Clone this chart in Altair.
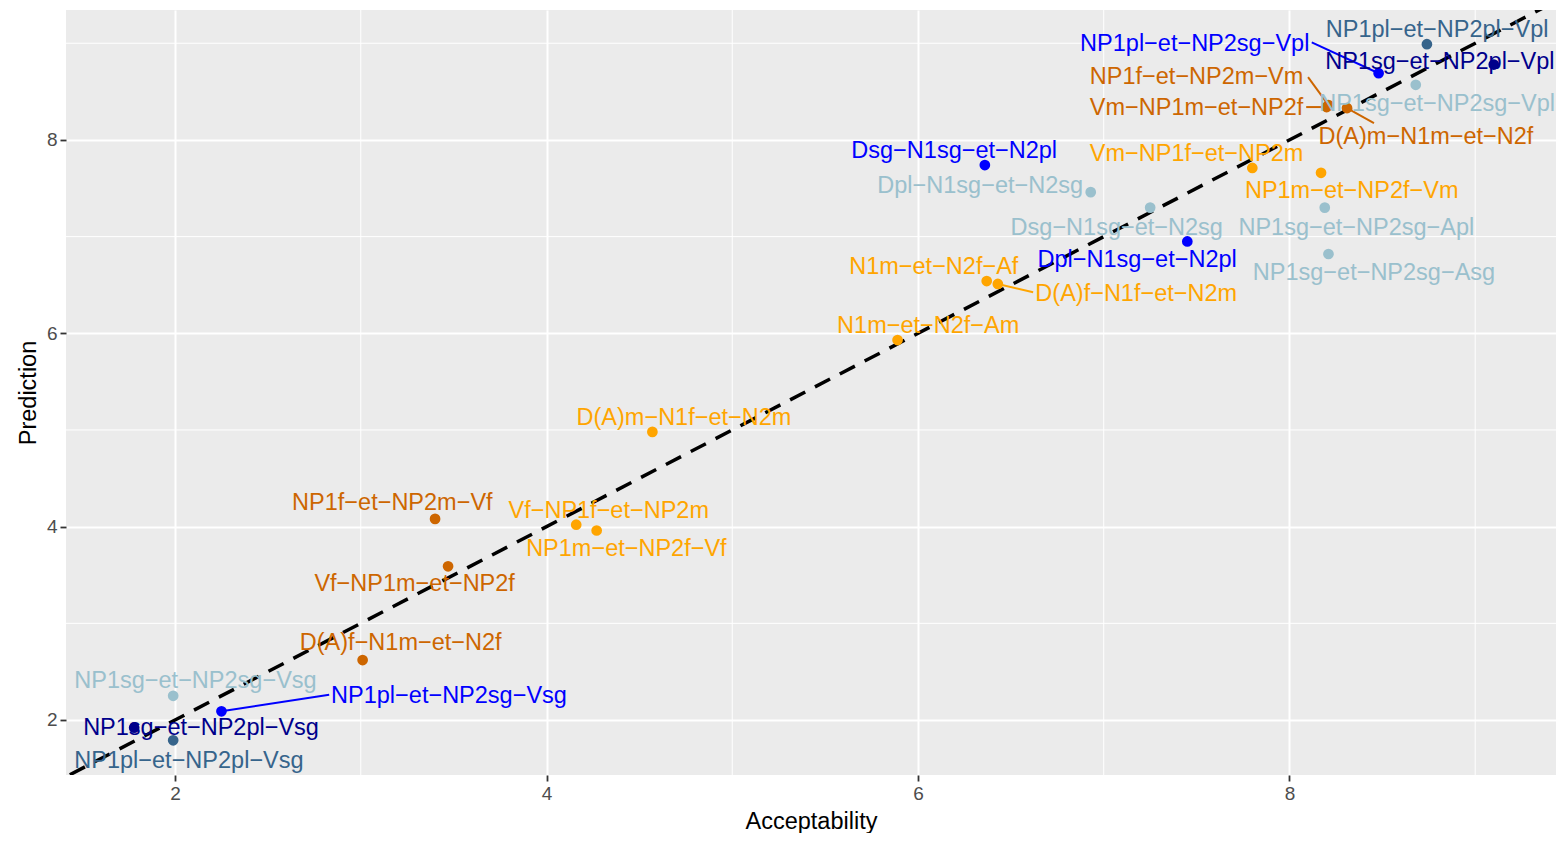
import altair as alt
import pandas as pd

# ---- data ----
labels = [
    "NP1sg−et−NP2pl−Vsg", "NP1sg−et−NP2pl−Vpl",
    "NP1pl−et−NP2pl−Vsg", "NP1pl−et−NP2pl−Vpl",
    "NP1sg−et−NP2sg−Vsg", "NP1sg−et−NP2sg−Vpl", "Dpl−N1sg−et−N2sg", "Dsg−N1sg−et−N2sg",
    "NP1sg−et−NP2sg−Apl", "NP1sg−et−NP2sg−Asg",
    "NP1pl−et−NP2sg−Vsg", "NP1pl−et−NP2sg−Vpl", "Dsg−N1sg−et−N2pl", "Dpl−N1sg−et−N2pl",
    "NP1f−et−NP2m−Vf", "Vf−NP1m−et−NP2f", "D(A)f−N1m−et−N2f", "NP1f−et−NP2m−Vm",
    "Vm−NP1m−et−NP2f", "D(A)m−N1m−et−N2f",
    "Vm−NP1f−et−NP2m", "NP1m−et−NP2f−Vm", "N1m−et−N2f−Af", "D(A)f−N1f−et−N2m",
    "N1m−et−N2f−Am", "D(A)m−N1f−et−N2m", "Vf−NP1f−et−NP2m", "NP1m−et−NP2f−Vf",
]
groups = (["g1"] * 2 + ["g2"] * 2 + ["g3"] * 6 + ["g4"] * 4 + ["g5"] * 6 + ["g6"] * 8)
acceptability = [1.78, 9.10, 1.99, 8.74, 1.99, 8.68, 6.93, 7.25, 8.19, 8.21,
                 2.25, 8.48, 6.36, 7.45, 3.40, 3.47, 3.01, 8.21, 8.20, 8.31,
                 7.80, 8.17, 6.37, 6.43, 5.89, 4.57, 4.16, 4.27]
prediction = [1.92, 8.78, 1.79, 8.99, 2.25, 8.57, 7.46, 7.30, 7.30, 6.82,
              2.09, 8.69, 7.74, 6.95, 4.08, 3.59, 2.62, 8.36, 8.34, 8.33,
              7.71, 7.66, 6.54, 6.51, 5.93, 4.98, 4.02, 3.96]
label_x = [2.14, 8.81, 2.075, 8.795, 2.11, 8.795, 6.335, 7.07, 8.36, 8.455,
           3.475, 7.49, 6.195, 7.18, 3.17, 3.29, 3.215, 7.50, 7.50, 8.735,
           7.50, 8.335, 6.085, 7.175, 6.055, 4.74, 4.335, 4.43]
label_y = [1.93, 8.82, 1.59, 9.15, 2.415, 8.39, 7.535, 7.10, 7.10, 6.635,
           2.26, 9.01, 7.90, 6.77, 4.26, 3.42, 2.81, 8.67, 8.35, 8.05,
           7.865, 7.485, 6.70, 6.425, 6.09, 5.135, 4.175, 3.78]

seg_labels = ["NP1pl−et−NP2sg−Vsg", "NP1pl−et−NP2sg−Vpl", "NP1f−et−NP2m−Vm",
              "Vm−NP1m−et−NP2f", "D(A)m−N1m−et−N2f", "D(A)f−N1f−et−N2m"]
seg_end_x = [2.83, 8.12, 8.10, 8.09, 8.455, 6.62]
seg_end_y = [2.26, 9.01, 8.65, 8.34, 8.175, 6.425]

group_names = ["g1", "g2", "g3", "g4", "g5", "g6"]
group_colors = ["#00008B", "#36648B", "#9AC0CD", "#0000FF", "#CD6600", "#FFA500"]

x_dom = [1.413, 9.435]
y_dom = [1.431, 9.344]
ref_line = [1.3, 9.6]
minor_x = [3, 5, 7, 9]
minor_y = [3, 5, 7, 9]

# ---- tables ----
pts = pd.DataFrame({"label": labels, "group": groups, "x": acceptability,
                    "y": prediction, "lx": label_x, "ly": label_y})
idx = {l: i for i, l in enumerate(labels)}
segs = pd.DataFrame({
    "label": seg_labels,
    "group": [groups[idx[l]] for l in seg_labels],
    "x": [acceptability[idx[l]] for l in seg_labels],
    "y": [prediction[idx[l]] for l in seg_labels],
    "x2": seg_end_x, "y2": seg_end_y,
})
line_df = pd.DataFrame({"x": ref_line, "y": ref_line})
mx_df = pd.DataFrame({"v": minor_x})
my_df = pd.DataFrame({"v": minor_y})

FONT = "Liberation Sans"
xs = alt.Scale(domain=x_dom, nice=False, zero=False)
ys = alt.Scale(domain=y_dom, nice=False, zero=False)
cs = alt.Scale(domain=group_names, range=group_colors)

common = dict(values=[2, 4, 6, 8], grid=True, gridColor="white", gridWidth=2,
              domain=False, tickColor="#333333", tickSize=6, tickWidth=1.8,
              labelColor="#4D4D4D", labelFontSize=19, labelFont=FONT, labelPadding=3,
              titleFont=FONT, titleFontSize=23.5, titleFontWeight="normal",
              titleColor="black", titlePadding=6, format="d")
xaxis = alt.Axis(title="Acceptability", **common)
yaxis = alt.Axis(title="Prediction", **common)

base_pts = alt.Chart(pts)

minor_xl = alt.Chart(mx_df).mark_rule(color="white", strokeWidth=1).encode(
    x=alt.X("v:Q", scale=xs, axis=xaxis))
minor_yl = alt.Chart(my_df).mark_rule(color="white", strokeWidth=1).encode(
    y=alt.Y("v:Q", scale=ys, axis=yaxis))

ref = alt.Chart(line_df).mark_line(color="black", strokeWidth=3.5,
                                   strokeDash=[17, 11], clip=True).encode(
    x=alt.X("x:Q", scale=xs, axis=xaxis), y=alt.Y("y:Q", scale=ys, axis=yaxis))

seg = alt.Chart(segs).mark_rule(strokeWidth=2).encode(
    x=alt.X("x:Q", scale=xs, axis=xaxis), y=alt.Y("y:Q", scale=ys, axis=yaxis),
    x2="x2:Q", y2="y2:Q",
    color=alt.Color("group:N", scale=cs, legend=None))

points = base_pts.mark_circle(size=115, opacity=1).encode(
    x=alt.X("x:Q", scale=xs, axis=xaxis), y=alt.Y("y:Q", scale=ys, axis=yaxis),
    color=alt.Color("group:N", scale=cs, legend=None))

text = base_pts.mark_text(font=FONT, fontSize=23.5, align="center",
                          baseline="middle", dy=1.5).encode(
    x=alt.X("lx:Q", scale=xs, axis=xaxis), y=alt.Y("ly:Q", scale=ys, axis=yaxis),
    text="label:N",
    color=alt.Color("group:N", scale=cs, legend=None))

chart = alt.layer(minor_xl, minor_yl, ref, seg, points, text).properties(
    width=1490, height=765,
    autosize=alt.AutoSizeParams(type="none"),
    padding={"left": 58, "top": 2, "right": 0, "bottom": 58},
).configure_view(fill="#EBEBEB", stroke=None)

chart.save("out.html", embed_options={"renderer": "svg", "actions": False})
